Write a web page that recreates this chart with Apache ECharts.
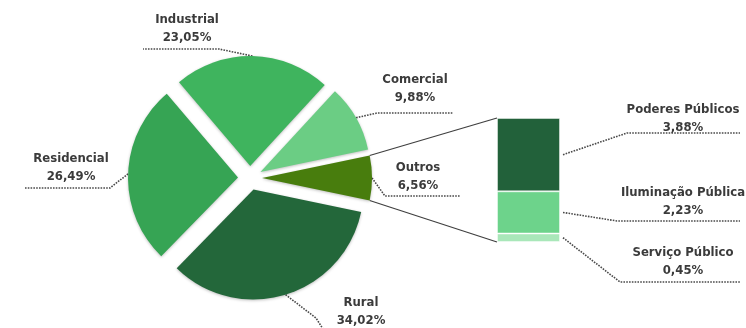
<!DOCTYPE html>
<html><head><meta charset="utf-8">
<script src="https://cdn.jsdelivr.net/npm/echarts@6/dist/echarts.min.js"></script>
<style>html,body{margin:0;padding:0;background:#fff}#chart{width:746px;height:328px}</style>
</head><body><div id="chart"></div>
<script>
// Participação no consumo por classe (%)
const classes = ['Outros', 'Rural', 'Residencial', 'Industrial', 'Comercial'];
const classShares = [6.56, 34.02, 26.49, 23.05, 9.88];
// Composição da classe "Outros" (%), de baixo para cima na barra
const otherClasses = ['Serviço Público', 'Iluminação Pública', 'Poderes Públicos'];
const otherShares = [0.45, 2.23, 3.88];

const classColors = {
  'Outros': '#487d0d', 'Rural': '#23673a', 'Residencial': '#36a454',
  'Industrial': '#3fb45e', 'Comercial': '#6bcd84'
};
const otherColors = {
  'Serviço Público': '#a9e7b9', 'Iluminação Pública': '#6dd38b', 'Poderes Públicos': '#22613a'
};

const FONT = 'DejaVu Sans Condensed';
const TEXT = '#3b3b3b';
const pct = v => v.toFixed(2).replace('.', ',') + '%';

// pie geometry
const CX = 250, CY = 178, R = 110, OFFSET = 12;
// bar geometry
const BAR_LEFT = 497, BAR_TOP = 118, BAR_W = 63, BAR_H = 124;

// label boxes (center x, top y) with leader elbow and end points
const pieLabels = {
  'Industrial':  { x: 187, y: 11,  elbow: [219, 49],  end: [143, 49] },
  'Comercial':   { x: 415, y: 71,  elbow: [377, 113], end: [453, 113] },
  'Outros':      { x: 418, y: 159, elbow: [385, 196], end: [460, 196] },
  'Residencial': { x: 71,  y: 150, elbow: [110, 188], end: [25, 188] },
  'Rural':       { x: 361, y: 294, elbow: [316, 318], end: [323, 329] }
};
const barLabels = {
  'Poderes Públicos':   { x: 683, y: 101, elbow: [627, 133], end: [740, 133] },
  'Iluminação Pública': { x: 683, y: 184, elbow: [617, 221], end: [740, 221] },
  'Serviço Público':    { x: 683, y: 244, elbow: [620, 282], end: [740, 282] }
};

const labelText = {
  fontFamily: FONT, fontWeight: 'bold', fontSize: 13, lineHeight: 18, color: TEXT
};
const LEADER = { color: '#4a4a4a', width: 1.6, dash: [1.6, 1.2] };
const leaderStyle = { color: LEADER.color, width: LEADER.width, type: LEADER.dash };

const total = otherShares.reduce((a, b) => a + b, 0);
const shareSum = classShares.reduce((a, b) => a + b, 0);
const outrosShare = classShares[classes.indexOf('Outros')];
const startAngle = outrosShare / shareSum * 360 / 2;

// mid angle (degrees, counter-clockwise from 3 o'clock) of each slice
const midAngles = [];
let acc = startAngle;
classShares.forEach(v => {
  const sweep = v / shareSum * 360;
  midAngles.push(acc - sweep / 2);
  acc -= sweep;
});

const chart = echarts.init(document.getElementById('chart'), null, { renderer: 'canvas' });

// one pie per slice, each shifted outwards along its own mid angle
const pieSeries = classes.map((name, k) => {
  const a = midAngles[k] * Math.PI / 180;
  return {
    type: 'pie',
    name: name,
    center: [CX + OFFSET * Math.cos(a), CY - OFFSET * Math.sin(a)],
    radius: [0, R],
    startAngle: startAngle,
    clockwise: true,
    silent: true,
    avoidLabelOverlap: false,
    data: classes.map((n, i) => ({
      name: n, value: classShares[i],
      itemStyle: i === k
        ? { color: classColors[n], shadowBlur: 3, shadowOffsetY: 1, shadowColor: 'rgba(0,0,0,0.25)' }
        : { color: 'rgba(0,0,0,0)' },
      label: { show: i === k },
      labelLine: { show: i === k }
    })),
    label: {
      position: 'outside',
      formatter: p => p.name + '\n' + pct(p.value),
      ...labelText
    },
    labelLine: { lineStyle: leaderStyle },
    labelLayout: p => {
      if (p.dataIndex !== k) return {};
      const L = pieLabels[name];
      return {
        x: L.x, y: L.y, align: 'center', verticalAlign: 'top',
        labelLinePoints: [p.labelLinePoints[0], L.elbow, L.end]
      };
    }
  };
});

const barSeries = otherClasses.map((name, i) => ({
  type: 'bar',
  name: name,
  stack: 'outros',
  barWidth: '100%',
  data: [otherShares[i]],
  itemStyle: { color: otherColors[name], borderColor: 'rgba(255,255,255,0.45)', borderWidth: 1 },
  silent: true,
  label: {
    show: true,
    position: 'right',
    align: 'center',
    formatter: p => p.seriesName + '\n' + pct(p.value),
    ...labelText
  },
  labelLayout: () => {
    const L = barLabels[name];
    return { x: L.x, y: L.y, align: 'center', verticalAlign: 'top' };
  }
}));

chart.setOption({
  animation: false,
  backgroundColor: '#ffffff',
  grid: { left: BAR_LEFT, top: BAR_TOP, width: BAR_W, height: BAR_H },
  xAxis: { type: 'category', data: ['Outros'], show: false, boundaryGap: true },
  yAxis: { type: 'value', min: 0, max: total, show: false },
  series: pieSeries.concat(barSeries)
});

const graphics = [];

// lines tying the "Outros" slice to the bar
const kO = classes.indexOf('Outros');
const aO = midAngles[kO] * Math.PI / 180;
const ocx = CX + OFFSET * Math.cos(aO), ocy = CY - OFFSET * Math.sin(aO);
const half = outrosShare / shareSum * Math.PI;
const aTop = aO + half, aBot = aO - half;
const topBar = chart.convertToPixel({ yAxisIndex: 0 }, total);
const botBar = chart.convertToPixel({ yAxisIndex: 0 }, 0);
[[aTop, topBar], [aBot, botBar]].forEach(([ang, yb]) => {
  graphics.push({ type: 'line', silent: true,
    shape: { x1: ocx + R * Math.cos(ang), y1: ocy - R * Math.sin(ang), x2: BAR_LEFT, y2: yb },
    style: { stroke: '#3f3f3f', lineWidth: 1.2 } });
});

// dotted leaders from each bar segment to its label
let cum = 0;
otherClasses.forEach((name, i) => {
  const yMid = chart.convertToPixel({ yAxisIndex: 0 }, cum + otherShares[i] / 2);
  cum += otherShares[i];
  const L = barLabels[name];
  graphics.push({ type: 'polyline', silent: true,
    shape: { points: [[BAR_LEFT + BAR_W + 3, yMid], L.elbow, L.end] },
    style: { stroke: LEADER.color, lineWidth: LEADER.width, lineDash: LEADER.dash, fill: null } });
});

chart.setOption({ graphic: graphics });
</script>
</body></html>
